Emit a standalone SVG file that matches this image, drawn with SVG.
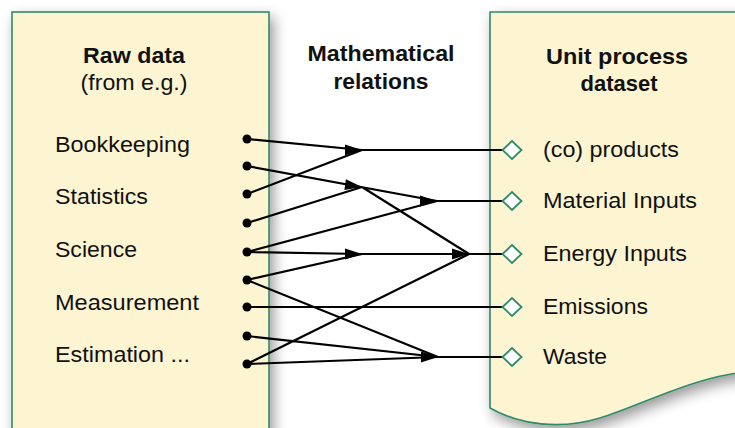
<svg xmlns="http://www.w3.org/2000/svg" xmlns:xlink="http://www.w3.org/1999/xlink" width="735" height="428" viewBox="0 0 735 428">
<style>
.panel{fill:#fdf5d2;stroke:#2e8b6a;stroke-width:1.6;filter:url(#sh)}
.t{font-family:"Liberation Sans",Arial,sans-serif;font-size:21.5px;fill:#111}
.b{font-weight:bold;text-anchor:middle}
.n{font-weight:normal}
.c{stroke:#000;stroke-width:2.2;fill:none}
.dot{fill:#000}
.ah{fill:#000}
.dia{fill:#fff;stroke:#2e8b6a;stroke-width:1.8}
</style>
<defs>
<filter id="sh" x="-20%" y="-20%" width="140%" height="140%">
<feDropShadow dx="4" dy="6" stdDeviation="7" flood-color="#000" flood-opacity="0.4"/>
</filter>
<path id="arrow" d="M0,0 L-17,-5.5 L-17,5.5 Z"/>
<path id="diamond" d="M-9.5,0 L0,-9 L9.5,0 L0,9 Z"/>
</defs>
<rect width="735" height="428" fill="#fff"/>

<g id="raw-data">
<rect class="panel" x="12" y="12" width="257" height="440"/>
<text class="t b" x="134" y="63" textLength="102" lengthAdjust="spacingAndGlyphs">Raw data</text>
<text class="t b n" x="134" y="90" textLength="107" lengthAdjust="spacingAndGlyphs">(from e.g.)</text>
<text class="t" x="55" y="152" textLength="135" lengthAdjust="spacingAndGlyphs">Bookkeeping</text>
<text class="t" x="55" y="204" textLength="93" lengthAdjust="spacingAndGlyphs">Statistics</text>
<text class="t" x="55" y="257" textLength="82" lengthAdjust="spacingAndGlyphs">Science</text>
<text class="t" x="55" y="310" textLength="144" lengthAdjust="spacingAndGlyphs">Measurement</text>
<text class="t" x="55" y="362" textLength="135" lengthAdjust="spacingAndGlyphs">Estimation ...</text>
</g>

<g id="unit-process">
<path class="panel" d="M490,12 H745 V372 C690,378 640,406 600,418 C560,430 520,425 490,408 Z"/>
<text class="t b" x="617" y="64" textLength="142" lengthAdjust="spacingAndGlyphs">Unit process</text>
<text class="t b" x="619" y="91" textLength="77" lengthAdjust="spacingAndGlyphs">dataset</text>
<text class="t" x="543" y="157" textLength="136" lengthAdjust="spacingAndGlyphs">(co) products</text>
<text class="t" x="543" y="208" textLength="154" lengthAdjust="spacingAndGlyphs">Material Inputs</text>
<text class="t" x="543" y="261" textLength="144" lengthAdjust="spacingAndGlyphs">Energy Inputs</text>
<text class="t" x="543" y="314" textLength="105" lengthAdjust="spacingAndGlyphs">Emissions</text>
<text class="t" x="543" y="364" textLength="64" lengthAdjust="spacingAndGlyphs">Waste</text>
</g>

<g id="math-relations">
<text class="t b" x="381" y="61" textLength="147" lengthAdjust="spacingAndGlyphs">Mathematical</text>
<text class="t b" x="381" y="89" textLength="95" lengthAdjust="spacingAndGlyphs">relations</text>
</g>

<g id="connectors">
<path class="c" d="M247,139 L362,150 M247,194 L362,150 M247,166 L437,201 M247,223 L362,187 M362,187 L469,254 M247,252 L437,201 M247,252 L362,254 L469,254 M247,280 L362,254 M247,280 L438,357 M247,307 L503,307 M247,336 L438,357 M247,364 L438,357 M247,364 L469,254 M362,150 L503,150 M437,201 L503,201 M469,254 L503,254 M438,357 L503,357"/>
<circle class="dot" cx="247" cy="139" r="4.5"/>
<circle class="dot" cx="247" cy="166" r="4.5"/>
<circle class="dot" cx="247" cy="194" r="4.5"/>
<circle class="dot" cx="247" cy="223" r="4.5"/>
<circle class="dot" cx="247" cy="252" r="4.5"/>
<circle class="dot" cx="247" cy="280" r="4.5"/>
<circle class="dot" cx="247" cy="307" r="4.5"/>
<circle class="dot" cx="247" cy="336" r="4.5"/>
<circle class="dot" cx="247" cy="364" r="4.5"/>
<use class="ah" xlink:href="#arrow" href="#arrow" x="362" y="150"/>
<use class="ah" xlink:href="#arrow" href="#arrow" transform="translate(362,187) rotate(8)"/>
<use class="ah" xlink:href="#arrow" href="#arrow" x="437" y="201"/>
<use class="ah" xlink:href="#arrow" href="#arrow" x="362" y="254"/>
<use class="ah" xlink:href="#arrow" href="#arrow" x="469" y="254"/>
<use class="ah" xlink:href="#arrow" href="#arrow" x="438" y="357"/>
<use class="dia" xlink:href="#diamond" href="#diamond" x="512" y="150"/>
<use class="dia" xlink:href="#diamond" href="#diamond" x="512" y="201"/>
<use class="dia" xlink:href="#diamond" href="#diamond" x="512" y="254"/>
<use class="dia" xlink:href="#diamond" href="#diamond" x="512" y="307"/>
<use class="dia" xlink:href="#diamond" href="#diamond" x="512" y="357"/>
</g>
</svg>
